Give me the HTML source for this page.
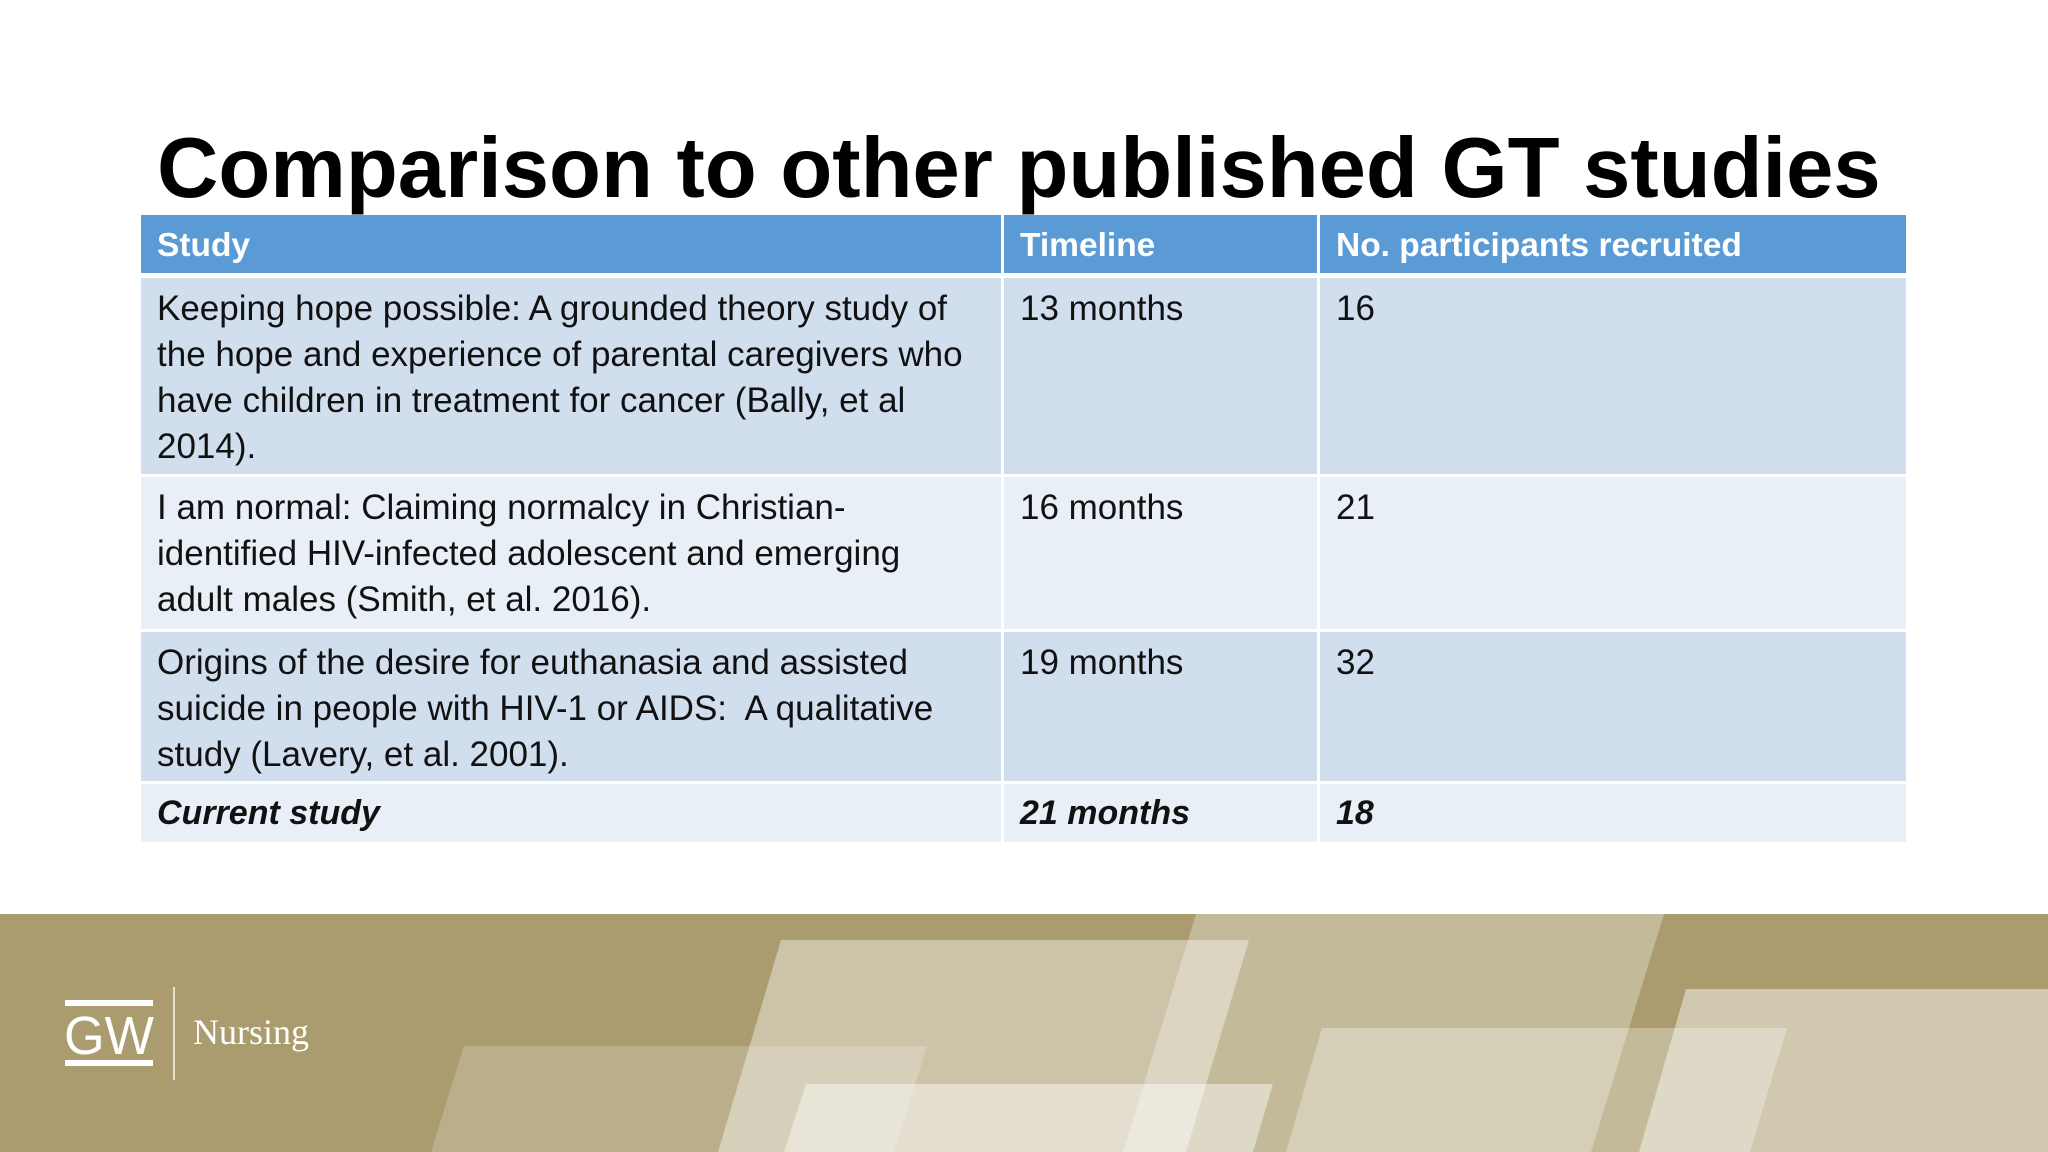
<!DOCTYPE html>
<html><head><meta charset="utf-8"><style>
body{margin:0;width:2048px;height:1152px;overflow:hidden;background:#fff;position:relative;font-family:"Liberation Sans",sans-serif}
#title{position:absolute;left:157px;top:119px;font-weight:bold;font-size:85px;line-height:100px;white-space:nowrap;color:#000}
.c{position:absolute;box-sizing:border-box;padding-left:16px;font-size:35px;line-height:46px;color:#111;white-space:nowrap}
.h{background:#5B9BD5;color:#fff;font-weight:bold;line-height:62px;font-size:33.5px}
.o{background:#D0DEEE;padding-top:8px}
.e{background:#E9EFF7;padding-top:8px}
.b{font-weight:bold;font-style:italic;padding-top:6px;font-size:34px}
</style></head><body>
<div id="title">Comparison to other published GT studies</div>
<div>
<div class="c h" style="left:141px;top:215px;width:860px;height:58px">Study</div>
<div class="c h" style="left:1004px;top:215px;width:313px;height:58px">Timeline</div>
<div class="c h" style="left:1320px;top:215px;width:586px;height:58px">No. participants recruited</div>

<div class="c o" style="left:141px;top:278px;width:860px;height:196px">Keeping hope possible: A grounded theory study of<br>the hope and experience of parental caregivers who<br>have children in treatment for cancer (Bally, et al<br>2014).</div>
<div class="c o" style="left:1004px;top:278px;width:313px;height:196px">13 months</div>
<div class="c o" style="left:1320px;top:278px;width:586px;height:196px">16</div>

<div class="c e" style="left:141px;top:477px;width:860px;height:152px">I am normal: Claiming normalcy in Christian-<br>identified HIV-infected adolescent and emerging<br>adult males (Smith, et al. 2016).</div>
<div class="c e" style="left:1004px;top:477px;width:313px;height:152px">16 months</div>
<div class="c e" style="left:1320px;top:477px;width:586px;height:152px">21</div>

<div class="c o" style="left:141px;top:632px;width:860px;height:149px">Origins of the desire for euthanasia and assisted<br>suicide in people with HIV-1 or AIDS:&nbsp; A qualitative<br>study (Lavery, et al. 2001).</div>
<div class="c o" style="left:1004px;top:632px;width:313px;height:149px">19 months</div>
<div class="c o" style="left:1320px;top:632px;width:586px;height:149px">32</div>

<div class="c e b" style="left:141px;top:784px;width:860px;height:58px">Current study</div>
<div class="c e b" style="left:1004px;top:784px;width:313px;height:58px">21 months</div>
<div class="c e b" style="left:1320px;top:784px;width:586px;height:58px">18</div>
</div>

<svg style="position:absolute;left:0;top:0" width="2048" height="1152">
<rect x="0" y="914" width="2048" height="238" fill="#AA9C6E"/>
<polygon points="1196,914 1664,914 1591,1152 1123,1152" fill="#fff" opacity="0.3"/>
<polygon points="781,940 1249,940 1186,1152 718,1152" fill="#fff" opacity="0.4"/>
<polygon points="464,1046 927,1046 894,1152 431,1152" fill="#fff" opacity="0.2"/>
<polygon points="806,1084 1273,1084 1253,1152 784,1152" fill="#fff" opacity="0.45"/>
<polygon points="1322,1028 1787,1028 1750,1152 1286,1152" fill="#fff" opacity="0.3"/>
<polygon points="1686,989 2048,989 2048,1152 1639,1152" fill="#fff" opacity="0.45"/>
<g>
<rect x="65" y="1000" width="88" height="6" fill="#fff"/>
<rect x="65" y="1060" width="88" height="6" fill="#fff"/>
<text x="64" y="1054" font-family="Liberation Sans, sans-serif" font-size="54" fill="#fff" textLength="90" lengthAdjust="spacingAndGlyphs">GW</text>
<rect x="173" y="987" width="2" height="93" fill="#fff" opacity="0.7"/>
<text x="193" y="1044" font-family="Liberation Serif, serif" font-size="36" fill="#fff">Nursing</text>
</g>
</svg>
</body></html>
